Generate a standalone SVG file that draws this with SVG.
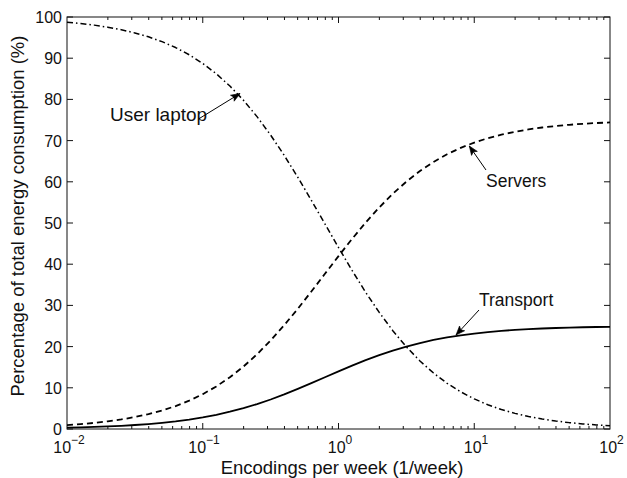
<svg xmlns="http://www.w3.org/2000/svg" xmlns:xlink="http://www.w3.org/1999/xlink" width="627" height="478" viewBox="0 0 627 478">
  <style>
    text { font-family: "Liberation Sans", Arial, sans-serif; fill: #111; }
    .tick { font-size: 16px; }
    .sup { font-size: 12px; }
    .axlabel { font-size: 18.5px; }
    .note { font-size: 18px; }
    .frame { fill: none; stroke: #111; stroke-width: 1; }
    .ticks { fill: none; stroke: #111; stroke-width: 1; }
    .curve { fill: none; stroke: #000; stroke-linejoin: round; }
    .laptop { stroke-width: 1.5; stroke-dasharray: 6 3 1.5 3; }
    .servers { stroke-width: 1.8; stroke-dasharray: 6 4; }
    .transport { stroke-width: 1.8; }
    .pointer { fill: none; stroke: #000; stroke-width: 1; }
  </style>
  <defs>
    <marker id="head" viewBox="-10 -5 11 10" refX="0" refY="0" markerWidth="11" markerHeight="10" markerUnits="userSpaceOnUse" orient="auto">
      <path d="M0,0 L-9,-3.5 L-7,0 L-9,3.5 Z" fill="#000" stroke="#000" stroke-width="0.6"/>
    </marker>
    <!-- minor log ticks for one decade (2..9), bottom and top edges -->
    <g id="minor">
      <path d="M40.87 429v-3M64.77 429v-3M81.73 429v-3M94.89 429v-3M105.63 429v-3M114.72 429v-3M122.59 429v-3M129.54 429v-3M40.87 17v3M64.77 17v3M81.73 17v3M94.89 17v3M105.63 17v3M114.72 17v3M122.59 17v3M129.54 17v3"/>
    </g>
  </defs>

  <rect width="627" height="478" fill="#fff"/>

  <!-- axes box and ticks -->
  <g id="axes">
    <rect class="frame" x="67" y="17" width="543" height="412"/>
    <g class="ticks">
      <path d="M67 429h6M67 387.8h6M67 346.6h6M67 305.4h6M67 264.2h6M67 223h6M67 181.8h6M67 140.6h6M67 99.4h6M67 58.2h6M67 17h6"/>
      <path d="M610 429h-6M610 387.8h-6M610 346.6h-6M610 305.4h-6M610 264.2h-6M610 223h-6M610 181.8h-6M610 140.6h-6M610 99.4h-6M610 58.2h-6M610 17h-6"/>
      <path d="M202.75 429v-6M338.5 429v-6M474.25 429v-6M202.75 17v6M338.5 17v6M474.25 17v6"/>
      <use xlink:href="#minor" x="67"/>
      <use xlink:href="#minor" x="202.75"/>
      <use xlink:href="#minor" x="338.5"/>
      <use xlink:href="#minor" x="474.25"/>
    </g>
    <g class="tick" text-anchor="end">
      <text x="62" y="435">0</text>
      <text x="62" y="393.8">10</text>
      <text x="62" y="352.6">20</text>
      <text x="62" y="311.4">30</text>
      <text x="62" y="270.2">40</text>
      <text x="62" y="229">50</text>
      <text x="62" y="187.8">60</text>
      <text x="62" y="146.6">70</text>
      <text x="62" y="105.4">80</text>
      <text x="62" y="64.2">90</text>
      <text x="62" y="23">100</text>
    </g>
    <g class="tick" text-anchor="middle">
      <text x="69" y="452.5">10<tspan class="sup" dy="-9">−2</tspan></text>
      <text x="204" y="452.5">10<tspan class="sup" dy="-9">−1</tspan></text>
      <text x="340" y="452.5">10<tspan class="sup" dy="-9">0</tspan></text>
      <text x="476" y="452.5">10<tspan class="sup" dy="-9">1</tspan></text>
      <text x="611.5" y="452.5">10<tspan class="sup" dy="-9">2</tspan></text>
    </g>
    <text class="axlabel" x="342" y="473.5" text-anchor="middle">Encodings per week (1/week)</text>
    <text class="axlabel" transform="translate(23.5,216) rotate(-90)" text-anchor="middle">Percentage of total energy consumption (%)</text>
  </g>

  <!-- data curves -->
  <g id="laptop-curve">
    <polyline class="curve laptop" points="67,22.17 80.58,23.48 94.15,25.13 107.73,27.18 121.3,29.74 134.88,32.91 148.45,36.83 162.03,41.65 175.6,47.56 189.18,54.75 202.75,63.43 216.33,73.79 229.9,86.03 243.48,100.29 257.05,116.64 270.63,135.05 284.2,155.36 297.78,177.24 311.35,200.28 324.93,223.9 338.5,247.5 352.08,270.46 365.65,292.25 379.23,312.42 392.8,330.67 406.38,346.86 419.95,360.97 433.53,373.06 447.1,383.29 460.68,391.84 474.25,398.93 487.83,404.75 501.4,409.5 514.98,413.36 528.55,416.48 542.13,418.99 555.7,421.01 569.28,422.63 582.85,423.92 596.43,424.96 610,425.76"/>
  </g>
  <g id="servers-curve">
    <polyline class="curve servers" points="67,425.13 80.58,424.14 94.15,422.9 107.73,421.36 121.3,419.45 134.88,417.07 148.45,414.13 162.03,410.51 175.6,406.08 189.18,400.68 202.75,394.18 216.33,386.41 229.9,377.23 243.48,366.53 257.05,354.27 270.63,340.46 284.2,325.23 297.78,308.82 311.35,291.54 324.93,273.82 338.5,256.12 352.08,238.9 365.65,222.56 379.23,207.44 392.8,193.74 406.38,181.6 419.95,171.02 433.53,161.95 447.1,154.28 460.68,147.87 474.25,142.55 487.83,138.19 501.4,134.63 514.98,131.73 528.55,129.39 542.13,127.51 555.7,125.99 569.28,124.78 582.85,123.81 596.43,123.03 610,122.43"/>
  </g>
  <g id="transport-curve">
    <polyline class="curve transport" points="67,427.71 80.58,427.38 94.15,426.97 107.73,426.45 121.3,425.82 134.88,425.02 148.45,424.04 162.03,422.84 175.6,421.36 189.18,419.56 202.75,417.39 216.33,414.8 229.9,411.74 243.48,408.18 257.05,404.09 270.63,399.49 284.2,394.41 297.78,388.94 311.35,383.18 324.93,377.27 338.5,371.37 352.08,365.63 365.65,360.19 379.23,355.15 392.8,350.58 406.38,346.53 419.95,343.01 433.53,339.98 447.1,337.43 460.68,335.29 474.25,333.52 487.83,332.06 501.4,330.87 514.98,329.91 528.55,329.13 542.13,328.5 555.7,328 569.28,327.59 582.85,327.27 596.43,327.01 610,326.81"/>
  </g>

  <!-- labels with pointer arrows -->
  <g id="label-laptop">
    <text class="note" x="110" y="121" style="font-size:19px">User laptop</text>
  </g>
  <g id="label-servers">
    <text class="note" x="486" y="186.5" style="font-size:17.5px">Servers</text>
  </g>
  <g id="label-transport">
    <text class="note" x="479" y="306" style="font-size:17.5px">Transport</text>
  </g>
  <g id="pointers">
    <line class="pointer" x1="198.5" y1="119" x2="240" y2="93.5" marker-end="url(#head)"/>
    <line class="pointer" x1="486" y1="170" x2="469.3" y2="146" marker-end="url(#head)"/>
    <line class="pointer" x1="479" y1="310" x2="456" y2="335" marker-end="url(#head)"/>
  </g>
</svg>
